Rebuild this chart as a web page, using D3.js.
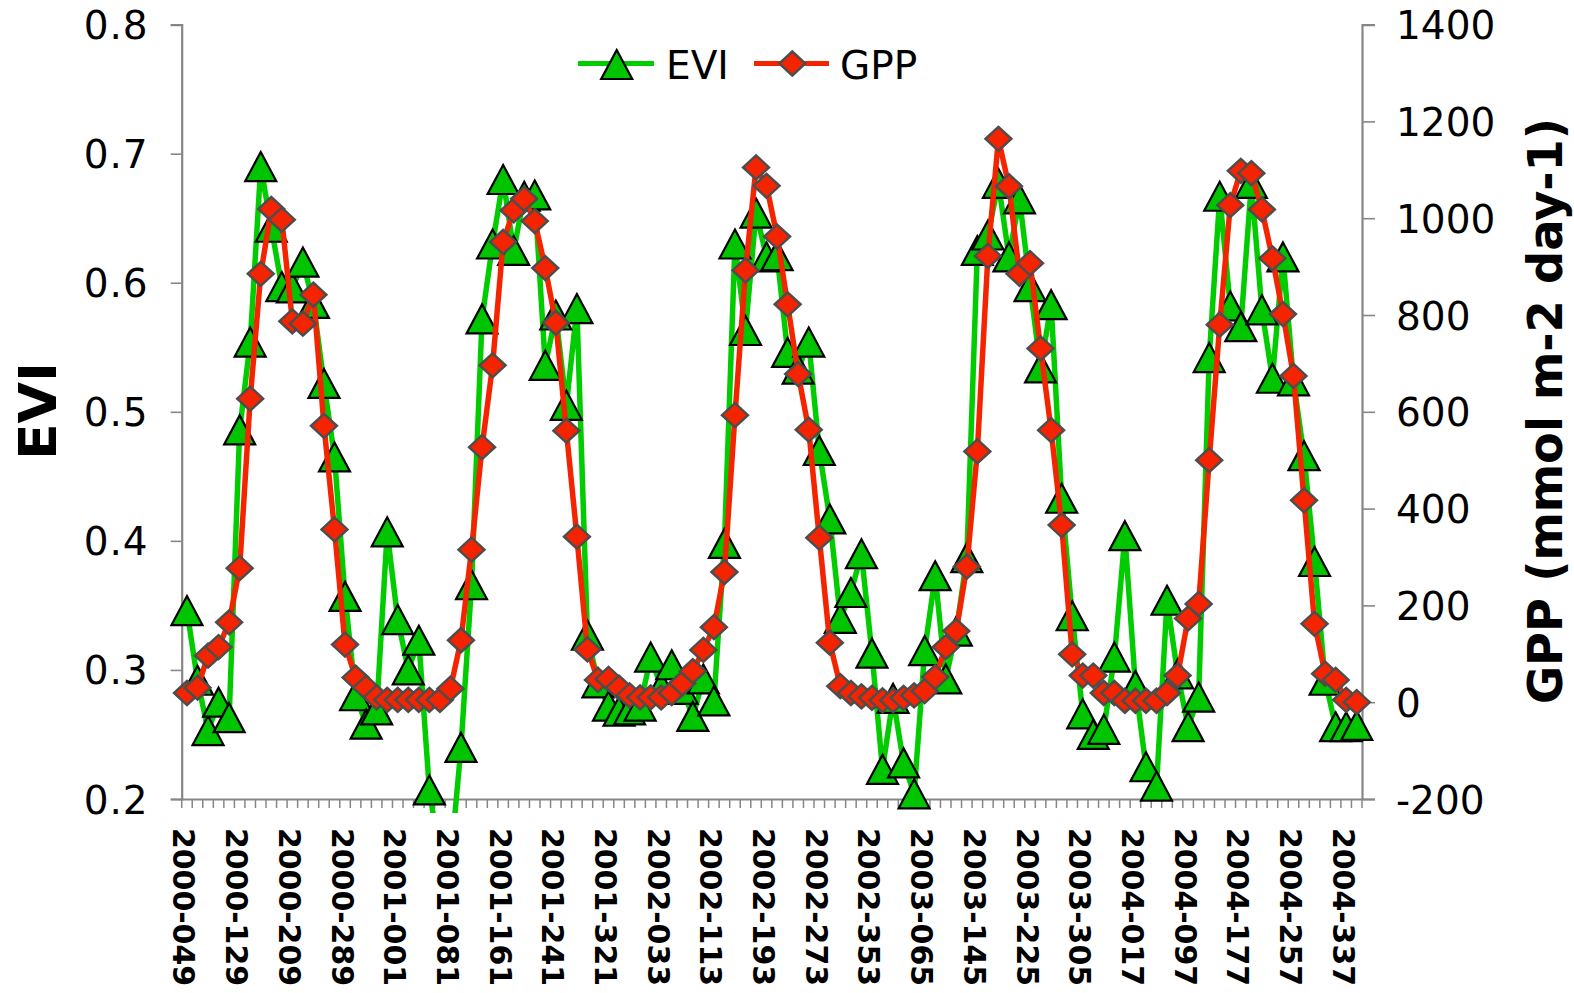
<!DOCTYPE html>
<html>
<head>
<meta charset="utf-8">
<script src="https://cdn.jsdelivr.net/npm/d3@7.9.0/dist/d3.min.js"></script>
<style>
  html, body { margin: 0; padding: 0; background: #fff; }
  svg { display: block; font-family: "DejaVu Sans", Verdana, sans-serif; }
</style>
</head>
<body>
<svg id="chart" width="1574" height="993"></svg>
<script>
// 16-day composite dates (year-day)
const categories = [
  "2000-049","2000-065","2000-081","2000-097","2000-113","2000-129","2000-145","2000-161","2000-177","2000-193",
  "2000-209","2000-225","2000-241","2000-257","2000-273","2000-289","2000-305","2000-321","2000-337","2000-353",
  "2001-001","2001-017","2001-033","2001-049","2001-065","2001-081","2001-097","2001-113","2001-129","2001-145",
  "2001-161","2001-177","2001-193","2001-209","2001-225","2001-241","2001-257","2001-273","2001-289","2001-305",
  "2001-321","2001-337","2001-353",
  "2002-001","2002-017","2002-033","2002-049","2002-065","2002-081","2002-097","2002-113","2002-129","2002-145",
  "2002-161","2002-177","2002-193","2002-209","2002-225","2002-241","2002-257","2002-273","2002-289","2002-305",
  "2002-321","2002-337","2002-353",
  "2003-001","2003-017","2003-033","2003-049","2003-065","2003-081","2003-097","2003-113","2003-129","2003-145",
  "2003-161","2003-177","2003-193","2003-209","2003-225","2003-241","2003-257","2003-273","2003-289","2003-305",
  "2003-321","2003-337","2003-353",
  "2004-001","2004-017","2004-033","2004-049","2004-065","2004-081","2004-097","2004-113","2004-129","2004-145",
  "2004-161","2004-177","2004-193","2004-209","2004-225","2004-241","2004-257","2004-273","2004-289","2004-305",
  "2004-321","2004-337","2004-353"
];

const evi = [
  0.346, 0.292, 0.253, 0.275, 0.263, 0.486, 0.554, 0.690, 0.643, 0.597,
  0.596, 0.616, 0.584, 0.522, 0.465, 0.357, 0.280, 0.258, 0.269, 0.407,
  0.339, 0.300, 0.323, 0.207, 0.155, 0.150, 0.240, 0.366, 0.572, 0.630,
  0.680, 0.625, 0.667, 0.668, 0.536, 0.575, 0.505, 0.580, 0.327, 0.290,
  0.272, 0.268, 0.269, 0.272, 0.310, 0.287, 0.304, 0.285, 0.264, 0.293,
  0.276, 0.398, 0.630, 0.563, 0.654, 0.620, 0.621, 0.546, 0.533, 0.554,
  0.470, 0.417, 0.340, 0.360, 0.390, 0.313, 0.223, 0.278, 0.228, 0.204,
  0.315, 0.373, 0.293, 0.330, 0.387, 0.625, 0.637, 0.677, 0.620, 0.665,
  0.597, 0.534, 0.583, 0.433, 0.342, 0.266, 0.250, 0.254, 0.310, 0.404,
  0.288, 0.225, 0.210, 0.354, 0.297, 0.256, 0.279, 0.542, 0.667, 0.582,
  0.566, 0.677, 0.579, 0.526, 0.620, 0.524, 0.466, 0.384, 0.292, 0.256,
  0.256, 0.257
];

const gpp = [
  19, 30, 96, 114, 165, 277, 627, 885, 1019, 997,
  787, 782, 842, 571, 357, 119, 51, 30, 10, 5,
  5, 5, 5, 5, 5, 28, 128, 315, 527, 696,
  951, 1016, 1040, 994, 897, 784, 561, 342, 109, 46,
  48, 30, 14, 10, 10, 10, 19, 39, 64, 108,
  155, 269, 593, 892, 1105, 1067, 962, 822, 678, 563,
  340, 123, 33, 19, 12, 9, 4, 4, 9, 14,
  23, 52, 114, 147, 280, 518, 922, 1164, 1066, 885,
  907, 731, 562, 366, 99, 55, 55, 19, 19, 3,
  3, 3, 3, 19, 55, 173, 203, 500, 780, 1027,
  1098, 1093, 1018, 917, 802, 674, 417, 162, 59, 46,
  5, 0
];

const eviTicks = [0.2, 0.3, 0.4, 0.5, 0.6, 0.7, 0.8];
const gppTicks = [-200, 0, 200, 400, 600, 800, 1000, 1200, 1400];
const labelEvery = 5;

const svg = d3.select("#chart");
const plotL = 181.7, plotR = 1362, plotT = 24.6, plotB = 799;

const x = d3.scaleBand().domain(categories).range([plotL, plotR]).padding(0);
const yL = d3.scaleLinear().domain([0.2, 0.8]).range([plotB, plotT]);
const yR = d3.scaleLinear().domain([-200, 1400]).range([plotB, plotT]);
const cx = d => x(d) + x.bandwidth() / 2;

const axisColor = "#868686";
const green = "#00CC00", greenFill = "#00C400";
const red = "#F42400";

// clip for lines (Excel lets them run a little under the axis)
svg.append("defs").append("clipPath").attr("id", "lineclip")
  .append("rect").attr("x", plotL).attr("y", plotT - 20)
  .attr("width", plotR - plotL).attr("height", 813 - plotT + 20);

// axes
const axL = svg.append("g").attr("transform", `translate(${plotL},0)`)
  .call(d3.axisLeft(yL).tickValues(eviTicks).tickSize(11).tickFormat(d3.format(".1f")));
const axR = svg.append("g").attr("transform", `translate(${plotR},0)`)
  .call(d3.axisRight(yR).tickValues(gppTicks).tickSize(13).tickFormat(d => d));
const axB = svg.append("g").attr("transform", `translate(0,${plotB})`)
  .call(d3.axisBottom(x).tickSize(0).tickFormat(""));

[axL, axR, axB].forEach(a => {
  a.select(".domain").attr("stroke", axisColor).attr("stroke-width", 2.2);
  a.selectAll(".tick line").attr("stroke", axisColor).attr("stroke-width", 1.6);
});
axL.selectAll(".tick text").attr("font-size", 39).attr("fill", "#000")
  .attr("font-family", "DejaVu Sans").attr("x", -34).attr("dy", "0.36em")
  .attr("textLength", 64).attr("lengthAdjust", "spacing");
axR.selectAll(".tick text").attr("font-size", 39).attr("fill", "#000")
  .attr("font-family", "DejaVu Sans").attr("x", 34).attr("dy", "0.36em");

// minor ticks at each category boundary
const bounds = categories.map(c => x(c)).concat([plotR]);
svg.append("g").selectAll("line").data(bounds).enter().append("line")
  .attr("x1", d => d).attr("x2", d => d)
  .attr("y1", plotB).attr("y2", plotB + 9)
  .attr("stroke", axisColor).attr("stroke-width", 1.5);

// rotated category labels
svg.append("g").selectAll("text")
  .data(categories.filter((c, i) => i % labelEvery === 0))
  .enter().append("text")
  .attr("transform", d => `translate(${cx(d) - 13.5},828) rotate(90)`)
  .attr("font-size", 30.5).attr("font-weight", "bold")
  .attr("textLength", 158).attr("lengthAdjust", "spacingAndGlyphs")
  .text(d => d);

// axis titles
svg.append("text")
  .attr("transform", "translate(56,411) rotate(-90)")
  .attr("text-anchor", "middle").attr("font-size", 52).attr("font-weight", "bold")
  .attr("textLength", 98).attr("lengthAdjust", "spacingAndGlyphs")
  .text("EVI");
svg.append("text")
  .attr("transform", "translate(1562,411) rotate(-90)")
  .attr("text-anchor", "middle").attr("font-size", 48).attr("font-weight", "bold")
  .attr("textLength", 586).attr("lengthAdjust", "spacingAndGlyphs")
  .text("GPP (mmol m-2 day-1)");

// marker shapes
const tri = "M0,-14.5L15.5,14.5L-15.5,14.5Z";
const dia = "M0,-12L13,0L0,12L-13,0Z";

// EVI series
const eviLine = d3.line().x((d, i) => cx(categories[i])).y(d => yL(d));
svg.append("path").datum(evi)
  .attr("clip-path", "url(#lineclip)")
  .attr("d", eviLine).attr("fill", "none")
  .attr("stroke", green).attr("stroke-width", 5.5).attr("stroke-linejoin", "round");
svg.append("g").selectAll("path")
  .data(evi.map((v, i) => ({ v, c: categories[i] })).filter(d => d.v >= 0.2))
  .enter().append("path")
  .attr("d", tri)
  .attr("transform", d => `translate(${cx(d.c)},${yL(d.v)})`)
  .attr("fill", greenFill).attr("stroke", "#000").attr("stroke-width", 2.2);

// GPP series
const gppLine = d3.line().x((d, i) => cx(categories[i])).y(d => yR(d));
svg.append("path").datum(gpp)
  .attr("clip-path", "url(#lineclip)")
  .attr("d", gppLine).attr("fill", "none")
  .attr("stroke", red).attr("stroke-width", 5.5).attr("stroke-linejoin", "round");
svg.append("g").selectAll("path")
  .data(gpp.map((v, i) => ({ v, c: categories[i] })))
  .enter().append("path")
  .attr("d", dia)
  .attr("transform", d => `translate(${cx(d.c)},${yR(d.v)})`)
  .attr("fill", red).attr("stroke", "#4D4D4D").attr("stroke-width", 2.4);

// legend
const legend = svg.append("g");
legend.append("line").attr("x1", 578).attr("x2", 654).attr("y1", 63.5).attr("y2", 63.5)
  .attr("stroke", green).attr("stroke-width", 5);
legend.append("path").attr("d", tri).attr("transform", "translate(616.7,64.5)")
  .attr("fill", greenFill).attr("stroke", "#000").attr("stroke-width", 2.2);
legend.append("text").attr("x", 666).attr("y", 79).attr("font-size", 39).text("EVI");
legend.append("line").attr("x1", 754).attr("x2", 829).attr("y1", 63.5).attr("y2", 63.5)
  .attr("stroke", red).attr("stroke-width", 5);
legend.append("path").attr("d", dia).attr("transform", "translate(792.3,63.5)")
  .attr("fill", red).attr("stroke", "#4D4D4D").attr("stroke-width", 2.4);
legend.append("text").attr("x", 840).attr("y", 79).attr("font-size", 39).text("GPP");
</script>
</body>
</html>
